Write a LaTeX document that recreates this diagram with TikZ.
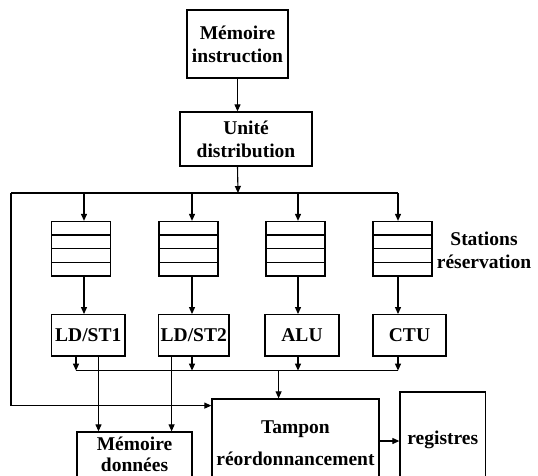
\documentclass[tikz,border=0pt]{standalone}
\usepackage{fontspec}
\setmainfont{Liberation Serif}
\usetikzlibrary{arrows.meta,calc}
\begin{document}
\begin{tikzpicture}[x=1pt,y=-1pt,
  font=\bfseries\fontsize{19.5}{23}\selectfont,
  box/.style={draw, line width=1.3pt, inner sep=0pt, align=center},
  arr/.style={-{Triangle[length=7pt,width=6pt]}, line width=1.1pt},
  ln/.style={line width=1.1pt},
  station/.style={box, minimum width=59pt, minimum height=54.5pt,
    path picture={\foreach \f in {0.25,0.5,0.75}{\draw[line width=1.3pt]
      ($(path picture bounding box.north west)!\f!(path picture bounding box.south west)$) --
      ($(path picture bounding box.north east)!\f!(path picture bounding box.south east)$);}}},
  fu/.style={box, minimum height=41.3pt}]
\useasboundingbox (0,0) rectangle (538,475);
\clip (0,0) rectangle (538,475);
\fill[white] (0,0) rectangle (538,475);

\node[box, minimum width=101pt, minimum height=68pt] (mi) at (237.5,44) {Mémoire\\instruction};
\node[box, minimum width=132pt, minimum height=54pt] (ud) at (246,139) {Unité\\distribution};
\draw[arr] (mi.south) -- (mi.south |- ud.north);

\coordinate (bl) at (11,193);
\coordinate (br) at (398,193);
\coordinate (j) at (238,193);
\draw[arr] (mi.south |- ud.south) -- (j);
\draw[ln] (bl) -- (br);

\node[station] (s1) at (81,248.75) {};
\node[station] (s2) at (188.5,248.75) {};
\node[station] (s3) at (295.5,248.75) {};
\node[station] (s4) at (402.5,248.75) {};
\node[align=center] (st) at (484,250) {Stations\\réservation};

\draw[arr] ([xshift=3pt]s1.north |- bl) -- ([xshift=3pt]s1.north);
\draw[arr] ([xshift=3.5pt]s2.north |- bl) -- ([xshift=3.5pt]s2.north);
\draw[arr] ([xshift=2.5pt]s3.north |- bl) -- ([xshift=2.5pt]s3.north);
\draw[arr] ([xshift=-4.5pt]s4.north |- bl) -- ([xshift=-4.5pt]s4.north);

\node[fu, minimum width=73.5pt] (f1) at (88.25,335.35) {LD/ST1};
\node[fu, minimum width=70.5pt] (f2) at (193.75,335.35) {LD/ST2};
\node[fu, minimum width=74pt] (f3) at (302,335.35) {ALU};
\node[fu, minimum width=73pt] (f4) at (409.5,335.35) {CTU};

\draw[arr] ([xshift=3pt]s1.south) -- ([xshift=3pt]s1.south |- f1.north);
\draw[arr] ([xshift=3.5pt]s2.south) -- ([xshift=3.5pt]s2.south |- f2.north);
\draw[arr] ([xshift=2.5pt]s3.south) -- ([xshift=2.5pt]s3.south |- f3.north);
\draw[arr] ([xshift=-4.5pt]s4.south) -- ([xshift=-4.5pt]s4.south |- f4.north);

\coordinate (ol) at (76,370.6);
\coordinate (or) at (398,370.6);
\coordinate (oj) at (278.6,370.6);
\draw[ln] (ol) -- (or);
\draw[arr] ([xshift=-12.25pt]f1.south) -- ([xshift=-12.25pt]f1.south |- ol);
\draw[arr] ([xshift=-1.75pt]f2.south) -- ([xshift=-1.75pt]f2.south |- ol);
\draw[arr] ([xshift=-4pt]f3.south) -- ([xshift=-4pt]f3.south |- ol);
\draw[arr] ([xshift=-11.5pt]f4.south) -- ([xshift=-11.5pt]f4.south |- ol);

\node[box, minimum width=115pt, minimum height=88pt] (md) at (134.5,476) {};
\node[box, minimum width=167pt, minimum height=121pt] (tp) at (295.5,459.5) {};
\node[box, minimum width=85.6pt, minimum height=128pt] (rg) at (442.8,456) {};
\node[align=center, inner sep=0pt, font=\bfseries\fontsize{19.5}{21}\selectfont] (mdt) at (134.5,454) {Mémoire\\données};
\node (tpa) at (295.5,429) {Tampon};
\node (tpb) at (295.5,459) {réordonnancement};
\node (rgt) at (442.8,440) {registres};

\draw[arr] (oj) -- (oj |- tp.north);
\draw[arr] ([xshift=10.25pt]f1.south) -- ([xshift=10.25pt]f1.south |- md.north);
\draw[arr] ([xshift=-22.15pt]f2.south) -- ([xshift=-22.15pt]f2.south |- md.north);
\draw[arr] ([yshift=18.5pt]tp.east) -- ([yshift=18.5pt]tp.east -| rg.west);
\draw[arr] (bl) |- ([yshift=53.9pt]tp.west);
\end{tikzpicture}
\end{document}
